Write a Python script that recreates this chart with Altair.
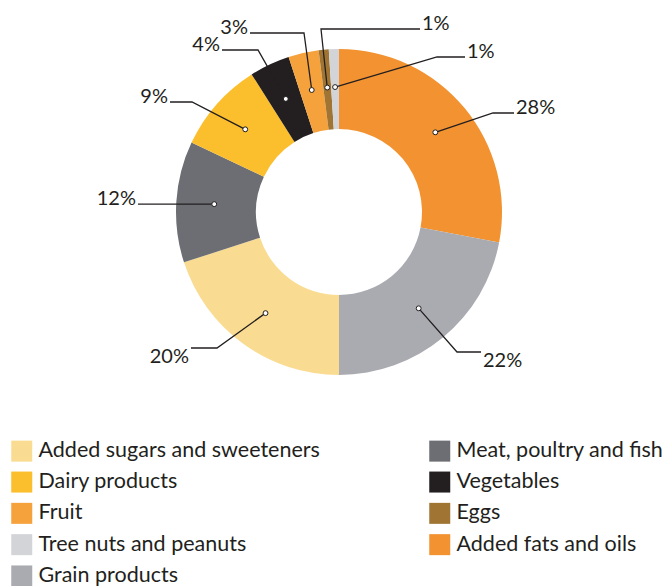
import math
import altair as alt
import pandas as pd

# ---- data (clockwise from 12 o'clock) ----
categories = ["Added fats and oils", "Grain products", "Added sugars and sweeteners",
              "Meat, poultry and fish", "Dairy products", "Vegetables", "Fruit",
              "Eggs", "Tree nuts and peanuts"]
shares = [28, 22, 20, 12, 9, 4, 3, 1, 1]
colors = ["#f29230", "#a9abb0", "#f9dc91", "#6d6e73", "#fbbe2d", "#231f20",
          "#f5a23c", "#a07534", "#d3d4d8"]
# legend fills column by column
legend_order = ["Added sugars and sweeteners", "Dairy products", "Fruit",
                "Tree nuts and peanuts", "Grain products",
                "Meat, poultry and fish", "Vegetables", "Eggs", "Added fats and oils"]

# ---- layout (page pixels) ----
W, H = 655, 578
OFF = 8
CX, CY = 339, 212
R_OUT, R_IN, R_DOT = 163, 83, 125
INK = "#231f20"
FONT = "Lato"

# leader lines: elbow point, end of horizontal segment, label side
leader_elbow = [(493, 113), (457, 352), (217, 348), None, (192, 102),
                (258, 50), (304, 33), (321, 29), (437, 57)]
leader_end_x = [514, 481, 191, 138, 170, 222, 250, 420, 465]
label_right = [True, True, False, False, False, False, False, True, True]
label_below = [False, True, True, False, False, False, False, False, False]

total = sum(shares)
arc_rows, line_rows, dot_rows, text_rows = [], [], [], []
cum = 0
for i, (c, v) in enumerate(zip(categories, shares)):
    arc_rows.append({"cat": c, "share": v, "idx": i})
    mid = (cum + v / 2) / total * 2 * math.pi
    cum += v
    dx = CX + R_DOT * math.sin(mid)
    dy = CY - R_DOT * math.cos(mid)
    ex, ey = leader_elbow[i] if leader_elbow[i] else (dx, dy)
    hx = leader_end_x[i]
    for k, (px, py) in enumerate([(dx, dy), (ex, ey), (hx, ey)]):
        line_rows.append({"cat": c, "k": k, "x": px - OFF, "y": py - OFF})
    dot_rows.append({"cat": c, "x": dx - OFF, "y": dy - OFF})
    text_rows.append({
        "label": f"{v}%",
        "x": (hx + 2 if label_right[i] else hx - 2) - OFF,
        "y": (ey + 15 if label_below[i] else ey + 1) - OFF,
        "align": "left" if label_right[i] else "right",
    })

df_arc = pd.DataFrame(arc_rows)
df_line = pd.DataFrame(line_rows)
df_dot = pd.DataFrame(dot_rows)
df_text = pd.DataFrame(text_rows)

xs = alt.Scale(domain=[0, W], range=[0, W], nice=False, zero=False)
ys = alt.Scale(domain=[0, H], range=[0, H], nice=False, zero=False)

legend_colors = [colors[categories.index(c)] for c in legend_order]

arcs = alt.Chart(df_arc).mark_arc(radius=R_OUT, radius2=R_IN, strokeWidth=0).encode(
    theta=alt.Theta("share:Q", stack=True),
    order=alt.Order("idx:Q"),
    color=alt.Color(
        "cat:N",
        scale=alt.Scale(domain=legend_order, range=legend_colors),
        legend=alt.Legend(
            title=None, orient="none", legendX=3, legendY=432, columns=2,
            columnPadding=109, rowPadding=8.3, symbolType="square", symbolSize=441,
            symbolStrokeWidth=0, symbolOpacity=1, labelFont=FONT, labelFontSize=21.5,
            labelColor=INK, labelOffset=6, labelLimit=500, padding=0,
        ),
    ),
    x=alt.value(CX - OFF),
    y=alt.value(CY - OFF),
)

lines = alt.Chart(df_line).mark_line(color=INK, strokeWidth=1.3).encode(
    x=alt.X("x:Q", scale=xs, axis=None),
    y=alt.Y("y:Q", scale=ys, axis=None),
    detail="cat:N",
    order="k:Q",
)

dots = alt.Chart(df_dot).mark_point(
    shape="circle", filled=True, fill="white", stroke=INK, strokeWidth=1, size=24, opacity=1
).encode(
    x=alt.X("x:Q", scale=xs, axis=None),
    y=alt.Y("y:Q", scale=ys, axis=None),
)

texts_l = alt.Chart(df_text[df_text["align"] == "left"]).mark_text(
    align="left", baseline="alphabetic", font=FONT, fontSize=20, color=INK
).encode(
    x=alt.X("x:Q", scale=xs, axis=None),
    y=alt.Y("y:Q", scale=ys, axis=None),
    text="label:N",
)
texts_r = alt.Chart(df_text[df_text["align"] == "right"]).mark_text(
    align="right", baseline="alphabetic", font=FONT, fontSize=20, color=INK
).encode(
    x=alt.X("x:Q", scale=xs, axis=None),
    y=alt.Y("y:Q", scale=ys, axis=None),
    text="label:N",
)

chart = alt.layer(arcs, lines, dots, texts_l, texts_r).properties(
    width=W, height=H, autosize=alt.AutoSizeParams(type="none"), padding=0
).configure_view(strokeWidth=0)

chart.save("out.html", embed_options={"renderer": "svg", "actions": False})
